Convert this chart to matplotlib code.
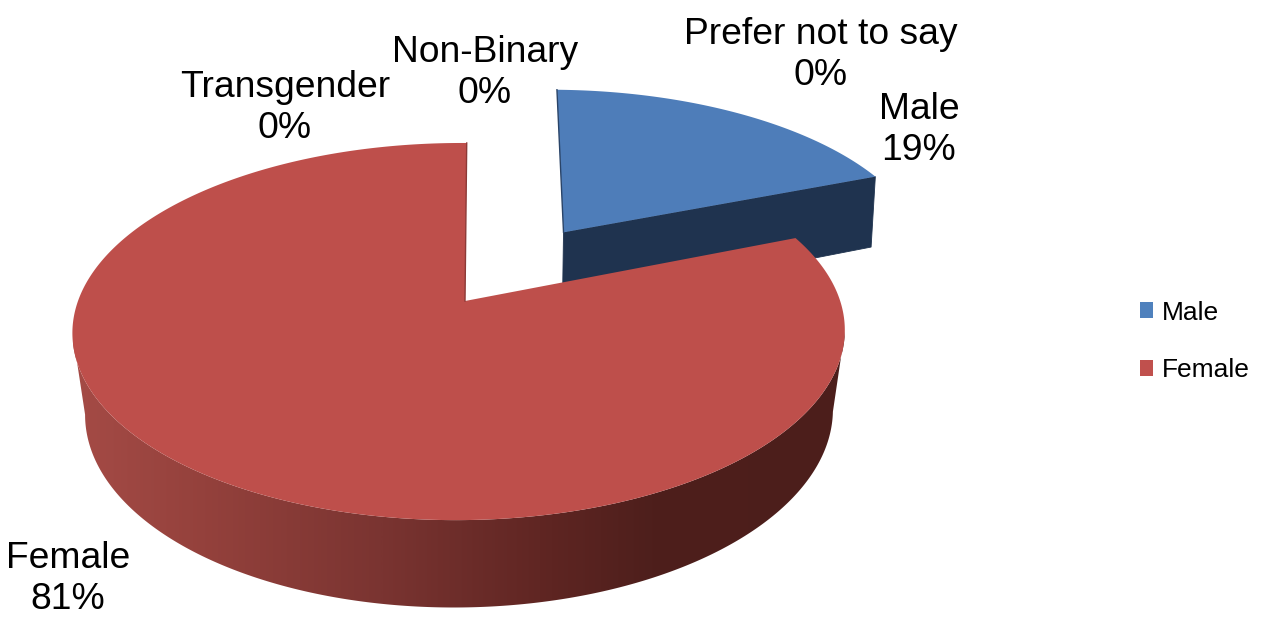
import numpy as np
import matplotlib
matplotlib.use("Agg")
import matplotlib.pyplot as plt
from matplotlib.colors import LinearSegmentedColormap
from matplotlib.patches import Patch, Polygon

categories = ["Male", "Female", "Transgender", "Non-Binary", "Prefer not to say"]
values = [19, 81, 0, 0, 0]
legend_categories = ["Male", "Female"]
label_centres = {"Male": (919, 130), "Female": (68, 579), "Transgender": (285, 108),
                 "Non-Binary": (485, 73), "Prefer not to say": (821, 55)}

plt.rcParams["font.family"] = ["Liberation Sans", "DejaVu Sans"]
fig = plt.figure(figsize=(12.63, 6.19), dpi=100)
ax = fig.add_axes([0, 0, 1, 1])
ax.set_xlim(0, 1263)
ax.set_ylim(619, 0)
ax.axis("off")

X0, Y0 = 465.0, 301.0
A, B, K, M = 381.0, 183.6, 0.162, 0.0155
DEPTH, Q = 83.0, 0.032


def project(px, py, low=False, skew=2.0, depth=DEPTH, q=Q):
    w = 1 + K * py + M * px + (q if low else 0.0)
    d = depth if low else 0.0
    return X0 + (A * px + skew * py) / w, Y0 + (-B * py + d) / w


def rim(a0, a1, n, ox=0.0, oy=0.0, r=1.0):
    t = np.radians(np.linspace(a0, a1, n))
    return r * np.sin(t) + ox, r * np.cos(t) + oy


total = sum(values)
male_sweep = 360 * values[0] / total

# exploded Male slice
EX, EY = 0.268, 0.40
MALE_R = 1.02
MALE_SKEW = 8.0
MALE_DEPTH, MALE_Q = 80.0, 0.012
MALE_SIDE = "#1F334F"
px, py = rim(0, male_sweep, 120, EX, EY, MALE_R)
x_a, y_a = project(EX, EY, skew=MALE_SKEW)
x_t, y_t = project(px, py, skew=MALE_SKEW)
x_ab, y_ab = project(EX, EY, True, MALE_SKEW, MALE_DEPTH, MALE_Q)
x_rb, y_rb = project(px[-1], py[-1], True, MALE_SKEW, MALE_DEPTH, MALE_Q)
ax.add_patch(Polygon([(x_a, y_a), (x_t[-1], y_t[-1]), (x_rb, y_rb), (x_ab, y_ab)],
                     closed=True, fc=MALE_SIDE, ec=MALE_SIDE, lw=0.6, zorder=1))
ax.add_patch(Polygon(np.r_[[[x_a, y_a]], np.c_[x_t, y_t]], closed=True, fc="#4E7DB9", ec="none", zorder=2))
ax.plot([x_a, x_t[0]], [y_a, y_t[0]], color="#2A4468", lw=1.0, zorder=2.5)

# Female slice: side wall with a horizontal colour ramp, clipped to the wall outline
ramp = LinearSegmentedColormap.from_list(
    "side", [(0.0, "#A54B46"), (0.17, "#94413C"), (0.4, "#7A3431"), (0.62, "#5E2522"), (0.75, "#4E1F1C"), (1.0, "#4C1E1B")])
px, py = rim(male_sweep, 360, 800)
front = py < -0.16
xt, yt = project(px[front], py[front])
xb, yb = project(px[front], py[front], True)
wall = Polygon(np.r_[np.c_[xt, yt], np.c_[xb, yb][::-1]], closed=True, transform=ax.transData, fc="none", ec="none")
ax.add_patch(wall)
img = ax.imshow(np.linspace(0, 1, 512)[None, :], cmap=ramp, extent=(73, 845, 619, 0), aspect="auto",
                interpolation="bilinear", zorder=3)
img.set_clip_path(wall)
ax.set_xlim(0, 1263)
ax.set_ylim(619, 0)

x_t, y_t = project(px, py)
x_a, y_a = project(0, 0)
ax.add_patch(Polygon(np.r_[[[x_a, y_a]], np.c_[x_t, y_t]], closed=True, fc="#BE4F4B", ec="none", zorder=4))
ax.plot([x_a, x_t[-1]], [y_a, y_t[-1]], color="#8C3A37", lw=1.0, zorder=4.5)

for name, value in zip(categories, values):
    cx, cy = label_centres[name]
    ax.text(cx, cy, f"{name}\n{value / total:.0%}", ha="center", va="center",
            fontsize=26.8, color="black", linespacing=1.25, zorder=6)

colours = {"Male": "#4F81BD", "Female": "#C0504D"}
ax.legend(handles=[Patch(fc=colours[c], ec="none", label=c) for c in legend_categories],
          loc="center left", bbox_to_anchor=(1140, 341.5), bbox_transform=ax.transData,
          frameon=False, fontsize=19, labelspacing=1.28, handlelength=0.48, handleheight=0.54,
          handletextpad=0.33, borderpad=0, borderaxespad=0)

fig.savefig("out.png", dpi=100, facecolor="white")
